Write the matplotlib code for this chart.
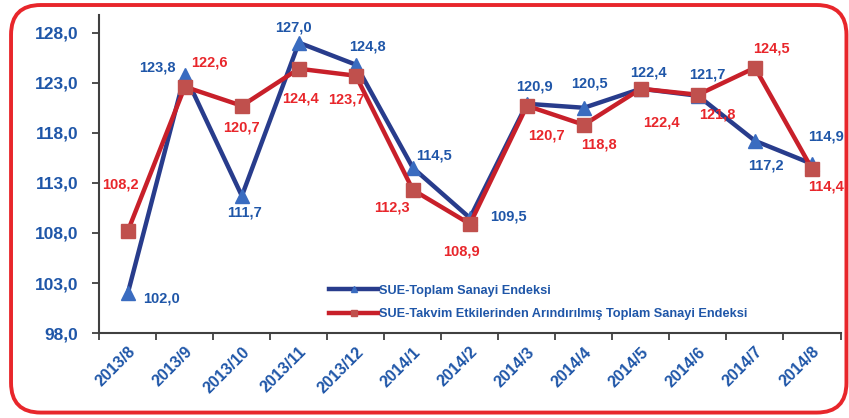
import numpy as np
import matplotlib
matplotlib.use("Agg")
import matplotlib.pyplot as plt
from matplotlib.patches import FancyBboxPatch

plt.rcParams['font.family'] = ['Liberation Sans', 'DejaVu Sans']
plt.rcParams['font.weight'] = 'bold'

# veriler
months = ["2013/8", "2013/9", "2013/10", "2013/11", "2013/12", "2014/1", "2014/2",
          "2014/3", "2014/4", "2014/5", "2014/6", "2014/7", "2014/8"]
sue = [102.0, 123.8, 111.7, 127.0, 124.8, 114.5, 109.5, 120.9, 120.5, 122.4, 121.7, 117.2, 114.9]
sue_ta = [108.2, 122.6, 120.7, 124.4, 123.7, 112.3, 108.9, 120.7, 118.8, 122.4, 121.8, 124.5, 114.4]
yticks = [98, 103, 108, 113, 118, 123, 128]

# etiket kaydırmaları (piksel)
off_sue = [(34, -5), (-27, 7), (3, -17), (-5, 15), (12, 18), (21, 12), (39, 1),
           (8, 17), (5, 24), (7, 16), (9, 21), (11, -25), (14, 27)]
off_ta = [(-7, 46), (25, 24), (0, -22), (2, -30), (-10, -24), (-21, -18), (-8, -28),
          (20, -30), (15, -20), (20, -34), (19, -20), (16, 19), (14, -18)]

blue_txt = '#1F56A8'
red_txt = '#E8262B'

fig = plt.figure(figsize=(8.49, 4.18), dpi=100)
ax = fig.add_axes([0.117, 0.203, 0.873, 0.762])

x = np.arange(len(months))
ax.plot(x, sue, color='#283C8C', lw=3.2, marker='^', ms=10, mfc='#3A6CC0', mec='#3A6CC0',
        label='SUE-Toplam Sanayi Endeksi', zorder=3)
ax.plot(x, sue_ta, color='#C8202A', lw=3.2, marker='s', ms=10, mfc='#C0504D', mec='#C0504D',
        label='SUE-Takvim Etkilerinden Arındırılmış Toplam Sanayi Endeksi', zorder=4)

for i in range(len(months)):
    ax.annotate(f"{sue[i]:.1f}".replace('.', ','), (x[i], sue[i]), xytext=off_sue[i],
                textcoords='offset pixels', ha='center', va='center', color=blue_txt,
                fontsize=10.5, fontweight='bold', zorder=5)
    ax.annotate(f"{sue_ta[i]:.1f}".replace('.', ','), (x[i], sue_ta[i]), xytext=off_ta[i],
                textcoords='offset pixels', ha='center', va='center', color=red_txt,
                fontsize=10.5, fontweight='bold', zorder=5)

ax.set_xlim(-0.5, len(months) - 0.5)
ax.set_ylim(98, 129.8)
ax.set_yticks(yticks)
ax.set_yticklabels([f"{v:.1f}".replace('.', ',') for v in yticks], color=blue_txt,
                   fontsize=12.5, fontweight='bold')
ax.set_xticks(x)
ax.set_xticklabels(months, rotation=45, ha='right', va='top', rotation_mode='anchor',
                   color=blue_txt, fontsize=11.5, fontweight='bold')
ax.tick_params(axis='x', which='major', length=0, pad=8)
ax.set_xticks(np.arange(-0.5, len(months)), minor=True)
ax.tick_params(axis='x', which='minor', length=5, width=1.3, color='#404040', direction='out')
ax.tick_params(axis='y', length=5, width=1.3, color='#404040', pad=10)
for s in ['top', 'right']:
    ax.spines[s].set_visible(False)
for s in ['left', 'bottom']:
    ax.spines[s].set_color('#404040')
    ax.spines[s].set_linewidth(1.5)

leg = ax.legend(loc='lower left', bbox_to_anchor=(0.295, 0.004), frameon=False,
                fontsize=9.2, handlelength=3.8, handletextpad=0.1, labelspacing=0.9,
                markerscale=0.5)
for t in leg.get_texts():
    t.set_color(blue_txt)
    t.set_fontweight('bold')

border = FancyBboxPatch((0.013, 0.013), 0.984, 0.975, boxstyle="round,pad=0,rounding_size=0.035",
                        transform=fig.transFigure, fill=False, ec='#E8262B', lw=2.8,
                        mutation_aspect=849 / 418)
fig.patches.append(border)

fig.savefig('out.png', dpi=100)
